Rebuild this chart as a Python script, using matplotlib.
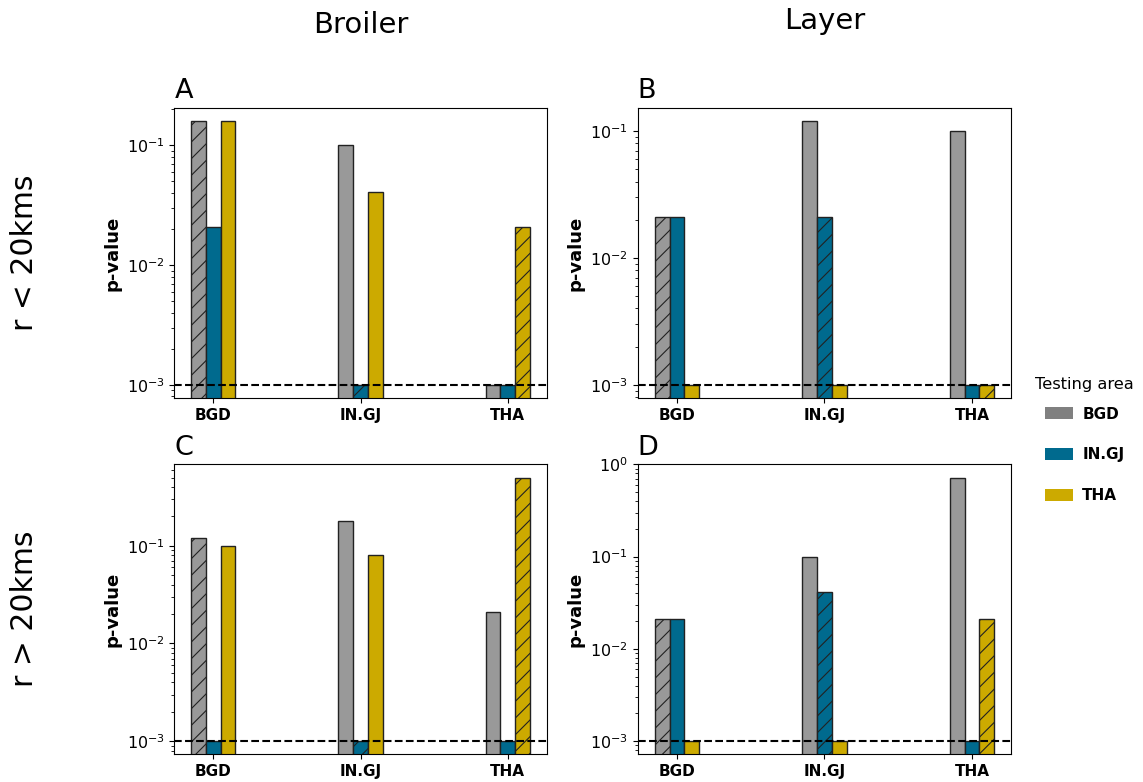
import numpy as np
import matplotlib
matplotlib.use("Agg")
import matplotlib.pyplot as plt
from matplotlib.patches import Patch

# Areas: bar groups are the training area, colours the testing area
areas = ["BGD", "IN.GJ", "THA"]

# p-values, rows = training area, columns = testing area
broiler_near = [[0.16, 0.021, 0.16],
                [0.10, 0.001, 0.041],
                [0.001, 0.001, 0.021]]
layer_near = [[0.021, 0.021, 0.001],
              [0.12, 0.021, 0.001],
              [0.10, 0.001, 0.001]]
broiler_far = [[0.12, 0.001, 0.10],
               [0.18, 0.001, 0.08],
               [0.021, 0.001, 0.50]]
layer_far = [[0.021, 0.021, 0.001],
             [0.10, 0.041, 0.001],
             [0.72, 0.001, 0.021]]

threshold = 1e-3

bar_colors = ["#999999", "#006a8e", "#ccaa00"]
legend_colors = ["#808080", "#006a8e", "#ccaa00"]

plt.rcParams["hatch.linewidth"] = 0.8
plt.rcParams["hatch.color"] = "#222222"

fig = plt.figure(figsize=(11.43, 7.82), dpi=100)

panels = [
    ("A", broiler_near, [0.1525, 0.491, 0.3258, 0.3712]),
    ("B", layer_near, [0.558, 0.491, 0.3266, 0.3712]),
    ("C", broiler_far, [0.1525, 0.0354, 0.3258, 0.3708]),
    ("D", layer_far, [0.558, 0.0354, 0.3266, 0.3708]),
]

width = 0.1
x = np.arange(len(areas))

for letter, values, rect in panels:
    ax = fig.add_axes(rect)
    vals = np.array(values)
    ax.set_yscale("log")
    for j in range(len(areas)):
        bars = ax.bar(x + (j - 1) * width, vals[:, j], width,
                      color=bar_colors[j], edgecolor="#222222", linewidth=1.0)
        # hatch the bar where training and testing area are the same
        bars[j].set_hatch("//")
    ax.axhline(threshold, color="black", linestyle="--", linewidth=1.5)

    # log-space limits with the usual 5% padding
    lo, hi = np.log10(vals.min()), np.log10(vals.max())
    pad = 0.05 * (hi - lo)
    ax.set_ylim(10 ** (lo - pad), 10 ** (hi + pad))

    ax.set_xticks(x)
    ax.set_xticklabels(areas, fontsize=11, fontweight="bold")
    ax.tick_params(axis="y", labelsize=11.5)
    ax.set_ylabel("p-value", fontsize=13, fontweight="bold")
    ax.set_title(letter, loc="left", fontsize=19.5, pad=7)

fig.text(0.3154, 0.958, "Broiler", ha="center", va="baseline", fontsize=21)
fig.text(0.7213, 0.963, "Layer", ha="center", va="baseline", fontsize=21)
fig.text(0.021, 0.677, "r < 20kms", ha="center", va="center",
         rotation=90, fontsize=21.5)
fig.text(0.021, 0.221, "r > 20kms", ha="center", va="center",
         rotation=90, fontsize=21.5)

handles = [Patch(facecolor=c, edgecolor="none") for c in legend_colors]
fig.legend(handles, areas, loc="center", bbox_to_anchor=(0.949, 0.4185),
           frameon=False, prop={"size": 11, "weight": "bold"},
           labelspacing=1.68, handlelength=1.85, handleheight=0.85,
           handletextpad=0.6)
fig.text(0.9484, 0.5077, "Testing area", ha="center", va="center",
         fontsize=11.7)

fig.savefig("out.png", dpi=100)
